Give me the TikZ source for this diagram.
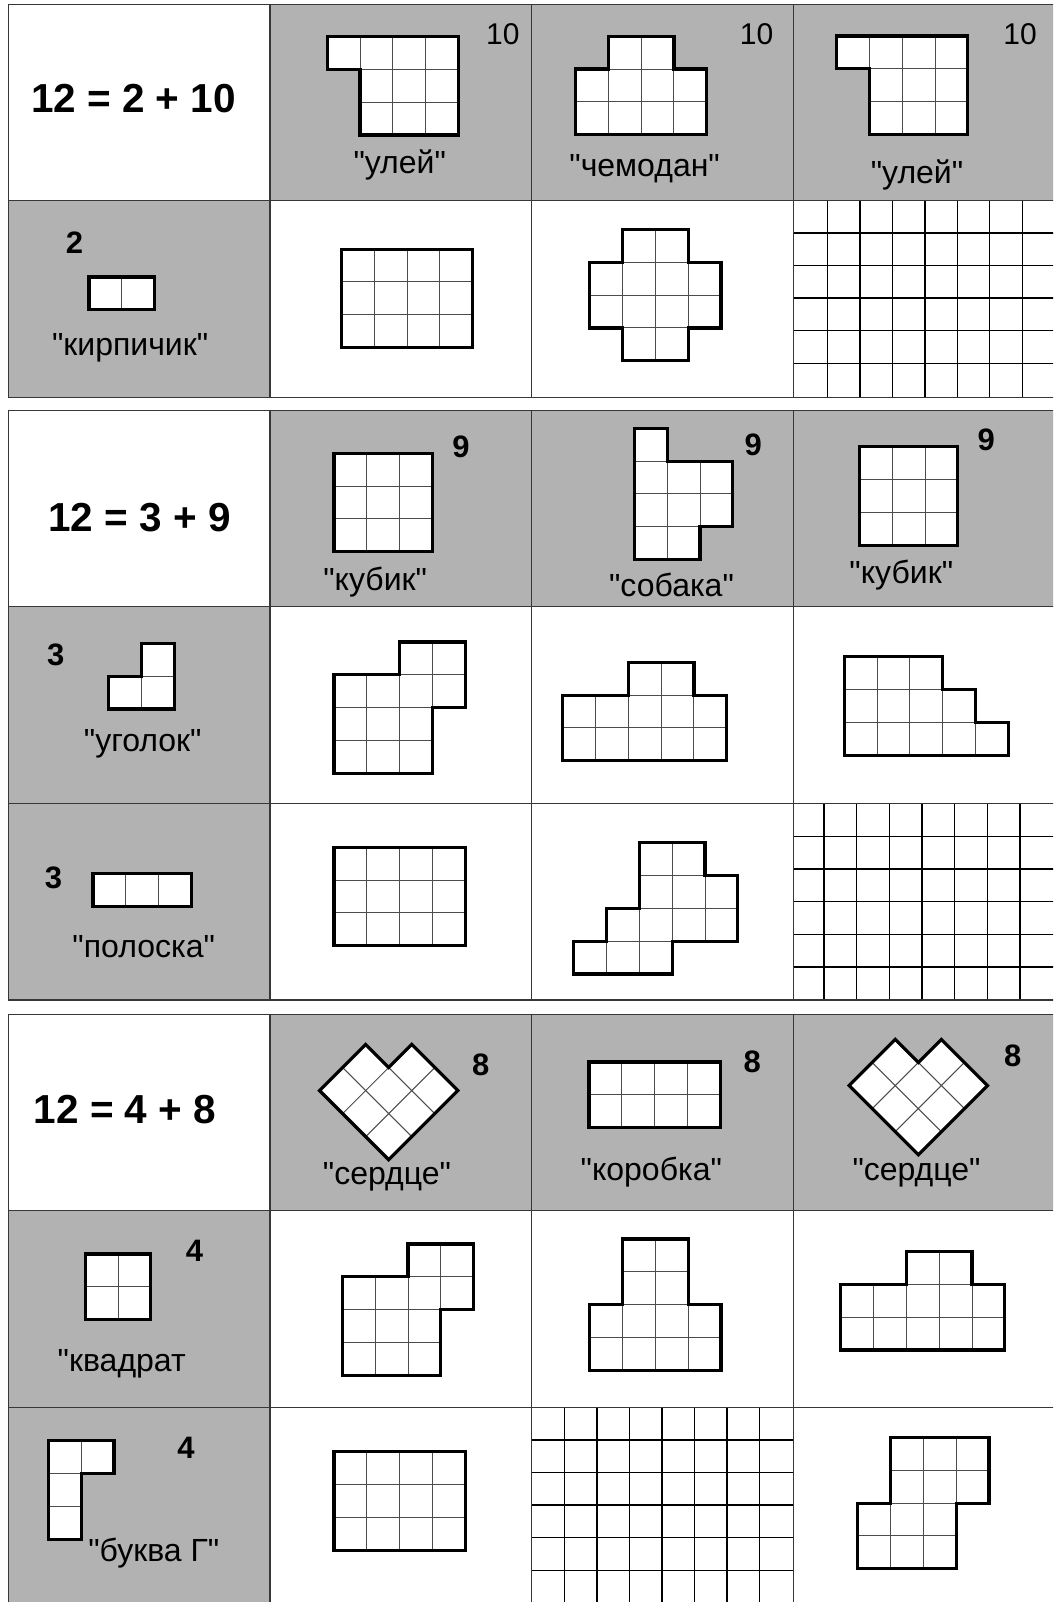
\documentclass[tikz,border=0pt]{standalone}
\usepackage{fontspec}
\setmainfont{Liberation Sans}[Ligatures=TeXOff]
\definecolor{cellgray}{RGB}{178,178,178}
\definecolor{tborder}{RGB}{55,55,55}
\tikzset{
  tline/.style={draw=tborder, line width=1.5pt},
  gline/.style={draw=black, line width=1.4pt},
  cellline/.style={draw=black!70, line width=1pt},
  shapeedge/.style={draw=black, line width=3.2pt, line join=miter},
  eqtext/.style={font=\fontsize{40.5}{46}\selectfont\bfseries, inner sep=0pt, anchor=base},
  numb/.style={font=\fontsize{31}{34}\selectfont\bfseries, inner sep=0pt},
  numr/.style={font=\fontsize{30}{34}\selectfont, inner sep=0pt},
  qtext/.style={font=\fontsize{32}{36}\selectfont, inner sep=0pt, anchor=base},
}
\newcommand{\drawpoly}[3]{%
  \begin{scope}[shift={#1}, x=32.8pt, y=-32.8pt]
    \fill[white] #3;
    \foreach \cx/\ry in {#2} {\draw[cellline] (\cx,\ry) rectangle ++(1,1);}
    \draw[shapeedge] #3;
  \end{scope}}
\newcommand{\drawrect}[3]{%
  \begin{scope}[shift={#1}, x=32.8pt, y=-32.8pt]
    \fill[white] (0,0) rectangle (#2,#3);
    \foreach \cx in {1,...,#2} {\foreach \ry in {1,...,#3} {\draw[cellline] (\cx-1,\ry-1) rectangle ++(1,1);}}
    \draw[shapeedge] (0,0) rectangle (#2,#3);
  \end{scope}}
\newcommand{\drawheart}[1]{%
  \begin{scope}[shift={#1}, x={(-23.05pt,23.05pt)}, y={(23.05pt,23.05pt)}]
    \fill[white] (0,0)--(3,0)--(3,2)--(2,2)--(2,3)--(0,3)--cycle;
    \draw[cellline] (1,0)--(1,3) (2,0)--(2,2) (0,1)--(3,1) (0,2)--(2,2);
    \draw[shapeedge] (0,0)--(3,0)--(3,2)--(2,2)--(2,3)--(0,3)--cycle;
  \end{scope}}
\newcommand{\tableframe}[1]{%
  \foreach \yy in {#1} {\draw[tline] (8.45,\yy) -- (1060,\yy);}
}
\begin{document}
\begin{tikzpicture}[x=1pt,y=-1pt]
\useasboundingbox (0,0) rectangle (1053,1602);
\clip (0,0) rectangle (1053,1602);
\fill[white] (0,0) rectangle (1053,1602);

% gray cells
\fill[cellgray] (270,4.7) rectangle (1060,200.7);
\fill[cellgray] (8.45,200.7) rectangle (270,397.3);
\fill[cellgray] (270,410.7) rectangle (1060,606.7);
\fill[cellgray] (8.45,606.7) rectangle (270,1000);
\fill[cellgray] (270,1014.7) rectangle (1060,1210.3);
\fill[cellgray] (8.45,1210.3) rectangle (270,1610);

% full-cell grids
\foreach \k in {0,...,6} {\draw[gline] (827.5+32.45*\k,200.7) -- (827.5+32.45*\k,397.3);}
\foreach \k in {1,...,5} {\draw[gline] (793.4,200.7+32.5*\k) -- (1060,200.7+32.5*\k);}
\foreach \k in {0,...,6} {\draw[gline] (824+32.65*\k,803.7) -- (824+32.65*\k,1000);}
\foreach \k in {1,...,5} {\draw[gline] (793.4,803.7+32.65*\k) -- (1060,803.7+32.65*\k);}
\foreach \k in {0,...,6} {\draw[gline] (564.4+32.55*\k,1407.3) -- (564.4+32.55*\k,1610);}
\foreach \k in {1,...,5} {\draw[gline] (531.5,1407.3+32.6*\k) -- (793.4,1407.3+32.6*\k);}

% table borders
\tableframe{4.7,200.7,397.3}
\foreach \xx in {8.45,270,531.5,793.4} {\draw[tline] (\xx,4.7) -- (\xx,397.3);}
\tableframe{410.7,606.7,803.7,1000}
\foreach \xx in {8.45,270,531.5,793.4} {\draw[tline] (\xx,410.7) -- (\xx,1000);}
\tableframe{1014.7,1210.3,1407.3}
\foreach \xx in {8.45,270,531.5,793.4} {\draw[tline] (\xx,1014.7) -- (\xx,1610);}

% ---------- table 1 ----------
\drawpoly{(327.2,36.7)}{0/0,1/0,2/0,3/0,1/1,2/1,3/1,1/2,2/2,3/2}{(0,0)--(4,0)--(4,3)--(1,3)--(1,1)--(0,1)--cycle}
\drawpoly{(575.5,36.3)}{1/0,2/0,0/1,1/1,2/1,3/1,0/2,1/2,2/2,3/2}{(1,0)--(3,0)--(3,1)--(4,1)--(4,3)--(0,3)--(0,1)--(1,1)--cycle}
\drawpoly{(836.6,36)}{0/0,1/0,2/0,3/0,1/1,2/1,3/1,1/2,2/2,3/2}{(0,0)--(4,0)--(4,3)--(1,3)--(1,1)--(0,1)--cycle}
\drawrect{(88.9,277)}{2}{1}
\drawrect{(341.5,249.2)}{4}{3}
\drawpoly{(589.7,229.5)}{1/0,2/0,0/1,1/1,2/1,3/1,0/2,1/2,2/2,3/2,1/3,2/3}{(1,0)--(3,0)--(3,1)--(4,1)--(4,3)--(3,3)--(3,4)--(1,4)--(1,3)--(0,3)--(0,1)--(1,1)--cycle}

\node[eqtext] (eq1) at (133.5,112.7) {12 = 2 + 10};
\node[numr] (n10a) at (502.8,34) {10};
\node[numr] (n10b) at (756.5,34) {10};
\node[numr] (n10c) at (1020,34) {10};
\node[qtext] (q1) at (399.7,173.3) {"улей"};
\node[qtext] (q2) at (644.6,176.7) {"чемодан"};
\node[qtext] (q3) at (917,183.3) {"улей"};
\node[numb] (n2) at (74.4,243) {2};
\node[qtext] (q4) at (130.1,355) {"кирпичик"};

% ---------- table 2 ----------
\drawrect{(334,453.3)}{3}{3}
\drawpoly{(634.4,428.3)}{0/0,0/1,1/1,2/1,0/2,1/2,2/2,0/3,1/3}{(0,0)--(1,0)--(1,1)--(3,1)--(3,3)--(2,3)--(2,4)--(0,4)--cycle}
\drawrect{(859.4,446.7)}{3}{3}
\drawpoly{(108.8,643.3)}{1/0,0/1,1/1}{(1,0)--(2,0)--(2,2)--(0,2)--(0,1)--(1,1)--cycle}
\drawpoly{(334,642)}{2/0,3/0,0/1,1/1,2/1,3/1,0/2,1/2,2/2,0/3,1/3,2/3}{(2,0)--(4,0)--(4,2)--(3,2)--(3,4)--(0,4)--(0,1)--(2,1)--cycle}
\drawpoly{(562.7,662.3)}{2/0,3/0,0/1,1/1,2/1,3/1,4/1,0/2,1/2,2/2,3/2,4/2}{(2,0)--(4,0)--(4,1)--(5,1)--(5,3)--(0,3)--(0,1)--(2,1)--cycle}
\drawpoly{(844.2,656.8)}{0/0,1/0,2/0,0/1,1/1,2/1,3/1,0/2,1/2,2/2,3/2,4/2}{(0,0)--(3,0)--(3,1)--(4,1)--(4,2)--(5,2)--(5,3)--(0,3)--cycle}
\drawrect{(93,873.3)}{3}{1}
\drawrect{(334,847.3)}{4}{3}
\drawpoly{(573.8,842.7)}{2/0,3/0,2/1,3/1,4/1,1/2,2/2,3/2,4/2,0/3,1/3,2/3}{(2,0)--(4,0)--(4,1)--(5,1)--(5,3)--(3,3)--(3,4)--(0,4)--(0,3)--(1,3)--(1,2)--(2,2)--cycle}

\node[eqtext] (eq2) at (139.4,531.7) {12 = 3 + 9};
\node[numb] (n9a) at (461,446.7) {9};
\node[numb] (n9b) at (753.2,444.5) {9};
\node[numb] (n9c) at (986.3,440) {9};
\node[qtext] (q5) at (375.2,590) {"кубик"};
\node[qtext] (q6) at (671.5,596.7) {"собака"};
\node[qtext] (q7) at (901.3,583.3) {"кубик"};
\node[numb] (n3a) at (55.8,655) {3};
\node[qtext] (q8) at (142.8,751.7) {"уголок"};
\node[numb] (n3b) at (53.6,878.3) {3};
\node[qtext] (q9) at (143.7,957.3) {"полоска"};

% ---------- table 3 ----------
\drawheart{(388.7,1159.7)}
\drawrect{(589,1062)}{4}{2}
\drawheart{(918.3,1154.7)}
\drawrect{(85.2,1254)}{2}{2}
\drawpoly{(342.4,1244)}{2/0,3/0,0/1,1/1,2/1,3/1,0/2,1/2,2/2,0/3,1/3,2/3}{(2,0)--(4,0)--(4,2)--(3,2)--(3,4)--(0,4)--(0,1)--(2,1)--cycle}
\drawpoly{(589.7,1239)}{1/0,2/0,1/1,2/1,0/2,1/2,2/2,3/2,0/3,1/3,2/3,3/3}{(1,0)--(3,0)--(3,2)--(4,2)--(4,4)--(0,4)--(0,2)--(1,2)--cycle}
\drawpoly{(840.8,1251.5)}{2/0,3/0,0/1,1/1,2/1,3/1,4/1,0/2,1/2,2/2,3/2,4/2}{(2,0)--(4,0)--(4,1)--(5,1)--(5,3)--(0,3)--(0,1)--(2,1)--cycle}
\drawpoly{(48.3,1440.7)}{0/0,1/0,0/1,0/2}{(0,0)--(2,0)--(2,1)--(1,1)--(1,3)--(0,3)--cycle}
\drawrect{(334,1451.7)}{4}{3}
\drawpoly{(857.7,1437.5)}{1/0,2/0,3/0,1/1,2/1,3/1,0/2,1/2,2/2,0/3,1/3,2/3}{(1,0)--(4,0)--(4,2)--(3,2)--(3,4)--(0,4)--(0,2)--(1,2)--cycle}

\node[eqtext] (eq3) at (125,1123) {12 = 4 + 8};
\node[numb] (n8a) at (480.8,1064.7) {8};
\node[numb] (n8b) at (752.3,1061.7) {8};
\node[numb] (n8c) at (1012.7,1055.5) {8};
\node[qtext] (q10) at (387,1184.7) {"сердце"};
\node[qtext] (q11) at (651.3,1180.7) {"коробка"};
\node[qtext] (q12) at (916.5,1180.7) {"сердце"};
\node[numb] (n4a) at (194.4,1251.3) {4};
\node[qtext, anchor=base west] (q13) at (57.5,1371) {"квадрат};
\node[numb] (n4b) at (185.9,1447.5) {4};
\node[qtext] (q14) at (153.8,1561.7) {"буква Г"};
\end{tikzpicture}
\end{document}
